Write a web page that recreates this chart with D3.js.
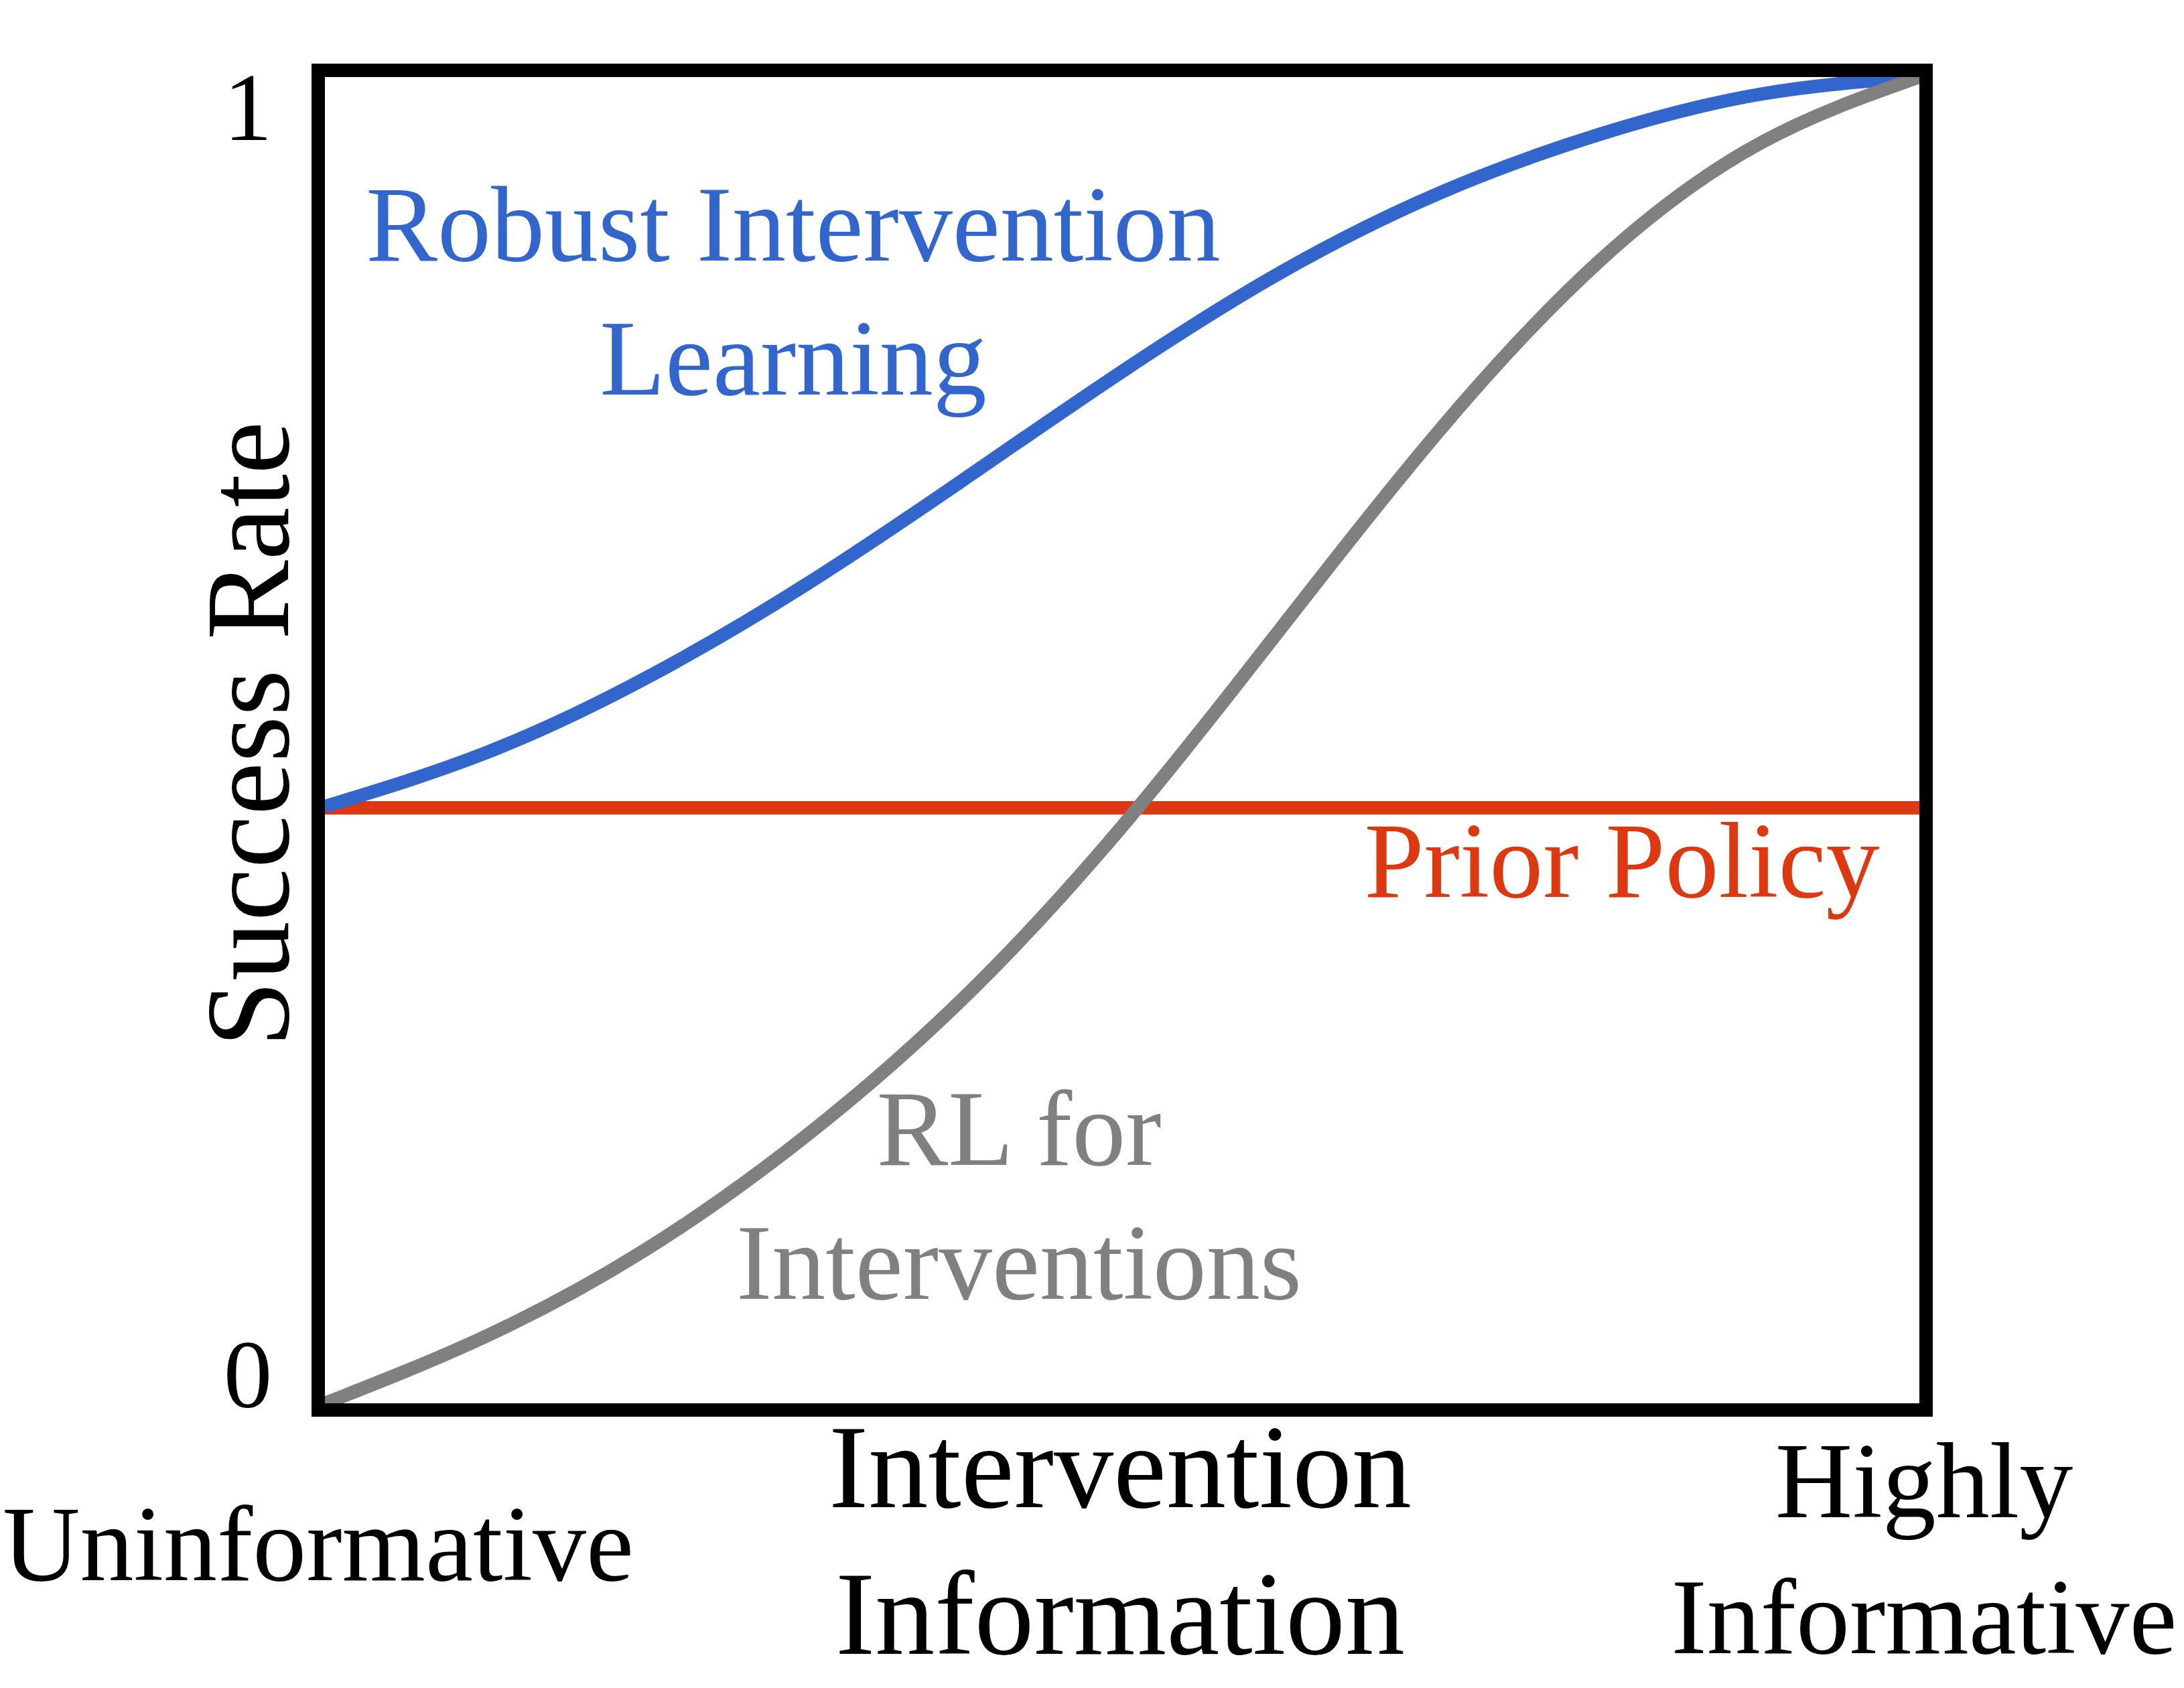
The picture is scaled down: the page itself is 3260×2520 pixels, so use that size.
<!DOCTYPE html>
<html>
<head>
<meta charset="utf-8">
<script src="https://cdn.jsdelivr.net/npm/d3@7"></script>
<style>
  html, body { margin: 0; padding: 0; background: #ffffff; }
  svg { display: block; }
  text { font-family: "Liberation Serif", "Times New Roman", serif; }
</style>
</head>
<body>
<svg id="chart" width="3260" height="2520"></svg>
<script>
// ---- data ----
const infoLevels   = [0, 0.1, 0.2, 0.3, 0.4, 0.5, 0.6, 0.7, 0.8, 0.9, 1.0];
const rilSuccess   = [0.45, 0.49, 0.546, 0.616, 0.696, 0.778, 0.853, 0.913, 0.957, 0.987, 1.0];
const rlSuccess    = [0.0, 0.05, 0.115, 0.2, 0.305, 0.435, 0.585, 0.735, 0.862, 0.95, 1.0];
const priorLevels  = [0, 1];
const priorSuccess = [0.449, 0.449];
const yTickValues  = [0, 1];
const yTickLabels  = ["0", "1"];
const seriesNames  = {
  ril: ["Robust Intervention", "Learning"],
  rl: ["RL for", "Interventions"],
  prior: ["Prior Policy"]
};
const xAxisTitle   = ["Intervention", "Information"];
const xEndLabels   = { low: ["Uninformative"], high: ["Highly", "Informative"] };
const yAxisTitle   = "Success Rate";

// ---- layout ----
const svg = d3.select("#chart");
const frame = { left: 475, right: 2875, top: 105, bottom: 2105, stroke: 20 };
const inner = { left: frame.left + frame.stroke / 2, right: frame.right - frame.stroke / 2,
                top: frame.top + frame.stroke / 2, bottom: frame.bottom - frame.stroke / 2 };

const x = d3.scaleLinear().domain([0, 1]).range([inner.left, inner.right]);
const y = d3.scaleLinear().domain([0, 1]).range([inner.bottom, inner.top]);

const colors = { ril: "#3366cc", prior: "#dc3912", rl: "#808080" };

svg.append("defs").append("clipPath").attr("id", "plotClip")
  .append("rect")
  .attr("x", inner.left).attr("y", inner.top)
  .attr("width", inner.right - inner.left).attr("height", inner.bottom - inner.top);

const plot = svg.append("g").attr("clip-path", "url(#plotClip)");

const line = d3.line()
  .x(d => x(d[0]))
  .y(d => y(d[1]))
  .curve(d3.curveNatural);

const priorData = priorLevels.map((v, i) => [v, priorSuccess[i]]);
const rilData = infoLevels.map((v, i) => [v, rilSuccess[i]]);
const rlData = infoLevels.map((v, i) => [v, rlSuccess[i]]);

plot.append("path").datum(priorData).attr("d", line)
  .attr("fill", "none").attr("stroke", colors.prior).attr("stroke-width", 20);
plot.append("path").datum(rilData).attr("d", line)
  .attr("fill", "none").attr("stroke", colors.ril).attr("stroke-width", 20);
plot.append("path").datum(rlData).attr("d", line)
  .attr("fill", "none").attr("stroke", colors.rl).attr("stroke-width", 20);

// frame
svg.append("rect")
  .attr("x", frame.left).attr("y", frame.top)
  .attr("width", frame.right - frame.left).attr("height", frame.bottom - frame.top)
  .attr("fill", "none").attr("stroke", "#000").attr("stroke-width", frame.stroke);

// y axis tick labels via d3 axis
const yAxis = d3.axisLeft(y).tickValues(yTickValues)
  .tickFormat((d, i) => yTickLabels[i]).tickSize(0).tickPadding(0);
const yAxisG = svg.append("g").attr("transform", `translate(${frame.left},0)`).call(yAxis);
yAxisG.select(".domain").remove();
yAxisG.selectAll(".tick text")
  .attr("font-family", "Liberation Serif")
  .attr("font-size", 145)
  .attr("fill", "#000")
  .attr("text-anchor", "middle")
  .attr("x", -105)
  .attr("dy", null)
  .attr("y", d => d === 1 ? 93 : 5);

// helper for multi-line text
function multiText(lines, cx, baseline0, lineGap, size, color) {
  const t = svg.append("text")
    .attr("text-anchor", "middle")
    .attr("font-size", size)
    .attr("fill", color);
  lines.forEach((s, i) => {
    t.append("tspan").attr("x", cx).attr("y", baseline0 + i * lineGap).text(s);
  });
  return t;
}

// series labels
multiText(seriesNames.ril, 1184, 389, 200, 160, colors.ril);
multiText(seriesNames.prior, 2421, 1339, 200, 160, colors.prior);
multiText(seriesNames.rl, 1521, 1739, 200, 160, colors.rl);

// x axis labels
multiText(xAxisTitle, 1672, 2250, 219, 178, "#000");
multiText(xEndLabels.low, frame.left, 2359, 200, 160, "#000");
multiText(xEndLabels.high, 2872, 2265, 203, 160, "#000");

// y axis title
svg.append("text")
  .attr("transform", `translate(430, 1096) rotate(-90)`)
  .attr("text-anchor", "middle")
  .attr("font-size", 178)
  .attr("fill", "#000")
  .text(yAxisTitle);
</script>
</body>
</html>
